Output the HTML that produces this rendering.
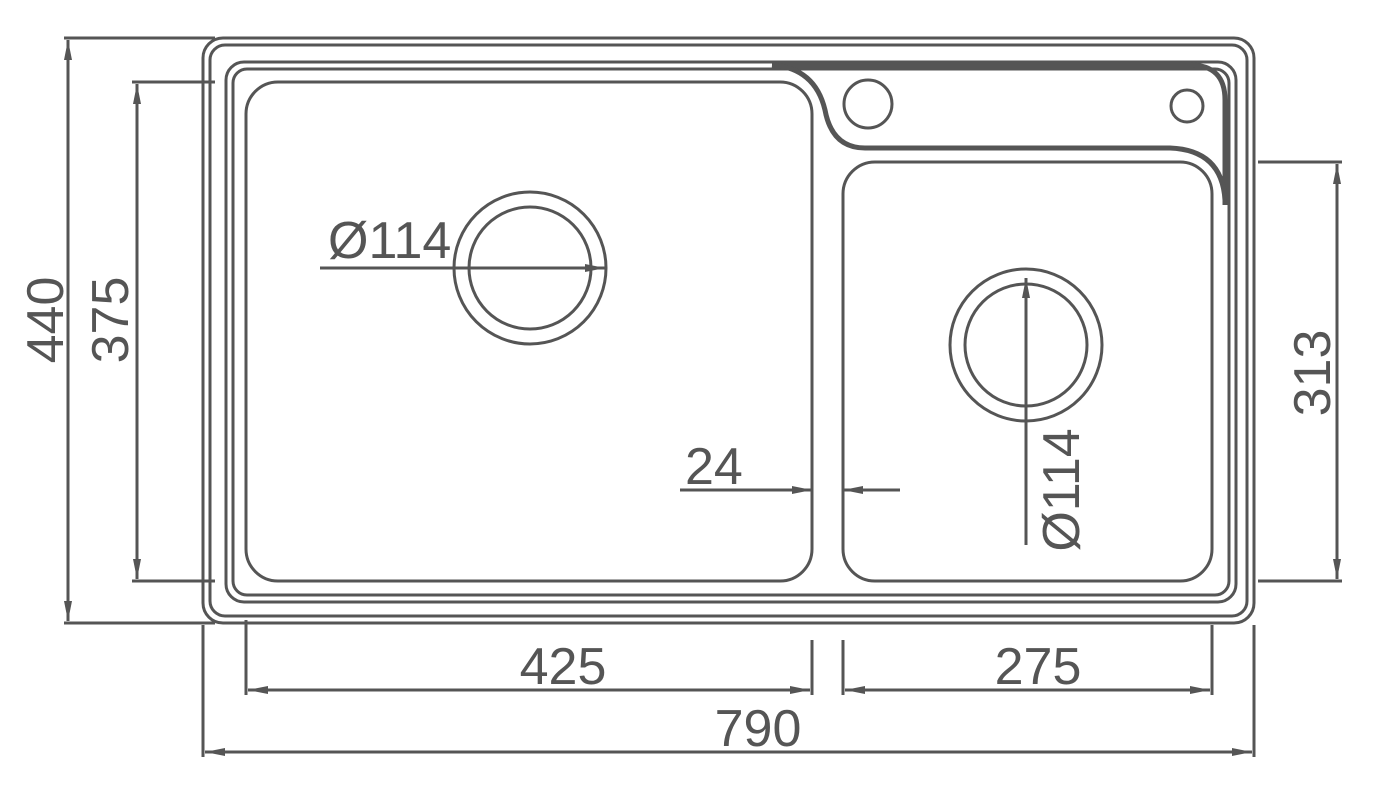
<!DOCTYPE html>
<html><head><meta charset="utf-8"><style>
html,body{margin:0;padding:0;background:#fff;}
svg{display:block}
text{font-family:"Liberation Sans",sans-serif;fill:#555;font-size:52px}
</style></head><body>
<svg width="1375" height="786" viewBox="0 0 1375 786" xmlns="http://www.w3.org/2000/svg">
<defs>
<marker id="a" viewBox="0 0 20 8" refX="20" refY="4" markerWidth="20" markerHeight="8" markerUnits="userSpaceOnUse" orient="auto-start-reverse"><path d="M0,0 L20,4 L0,8 z" fill="#555"/></marker>
</defs>
<g fill="none" stroke="#555" stroke-width="3">
<rect x="203" y="38" width="1051" height="585" rx="20"/>
<rect x="210" y="45" width="1037" height="571" rx="15"/>
<rect x="226" y="62" width="1010" height="540" rx="18"/>
<rect x="233" y="69" width="996" height="526" rx="14"/>
<rect x="246" y="82" width="566" height="499" rx="32"/>
<rect x="843" y="162" width="369" height="419" rx="32"/>
<path d="M772,65 L1190,65 Q1225,65 1225,100 L1225,205" stroke-width="5"/>
<path d="M772,65 Q815,68 825,110 Q832,148 865,148 L1170,148 Q1222,150 1225,200" stroke-width="5"/>
<circle cx="868" cy="104" r="24"/>
<circle cx="1187" cy="106" r="16"/>
<circle cx="530" cy="268" r="76"/>
<circle cx="530" cy="268" r="61"/>
<circle cx="1026" cy="345" r="76"/>
<circle cx="1026" cy="345" r="61"/>
<path d="M64,38 H215 M64,623 H215 M132,82 H215 M132,581 H215 M1258,162 H1342 M1258,581 H1342"/>
<path d="M246,620 V695 M812,640 V695 M843,640 V695 M1212,625 V695 M203,625 V757 M1254,625 V757"/>
<line x1="68" y1="40" x2="68" y2="621" marker-start="url(#a)" marker-end="url(#a)"/>
<line x1="137" y1="84" x2="137" y2="579" marker-start="url(#a)" marker-end="url(#a)"/>
<line x1="1337" y1="164" x2="1337" y2="579" marker-start="url(#a)" marker-end="url(#a)"/>
<line x1="248" y1="690" x2="810" y2="690" marker-start="url(#a)" marker-end="url(#a)"/>
<line x1="845" y1="690" x2="1210" y2="690" marker-start="url(#a)" marker-end="url(#a)"/>
<line x1="205" y1="752" x2="1252" y2="752" marker-start="url(#a)" marker-end="url(#a)"/>
<line x1="320" y1="268" x2="605" y2="268" marker-end="url(#a)"/>
<line x1="1026" y1="545" x2="1026" y2="278" marker-end="url(#a)"/>
<line x1="680" y1="490" x2="812" y2="490" marker-end="url(#a)"/>
<line x1="900" y1="490" x2="843" y2="490" marker-end="url(#a)"/>
<line x1="812" y1="440" x2="812" y2="510"/>
<line x1="843" y1="440" x2="843" y2="510"/>
</g>
<text x="563" y="684" text-anchor="middle">425</text>
<text x="1038" y="684" text-anchor="middle">275</text>
<text x="758" y="746" text-anchor="middle">790</text>
<text x="328" y="258">Ø114</text>
<text x="685" y="484">24</text>
<text transform="translate(63,320) rotate(-90)" text-anchor="middle">440</text>
<text transform="translate(128,320) rotate(-90)" text-anchor="middle">375</text>
<text transform="translate(1330,373) rotate(-90)" text-anchor="middle">313</text>
<text transform="translate(1079,490) rotate(-90)" text-anchor="middle">Ø114</text>
</svg>
</body></html>
